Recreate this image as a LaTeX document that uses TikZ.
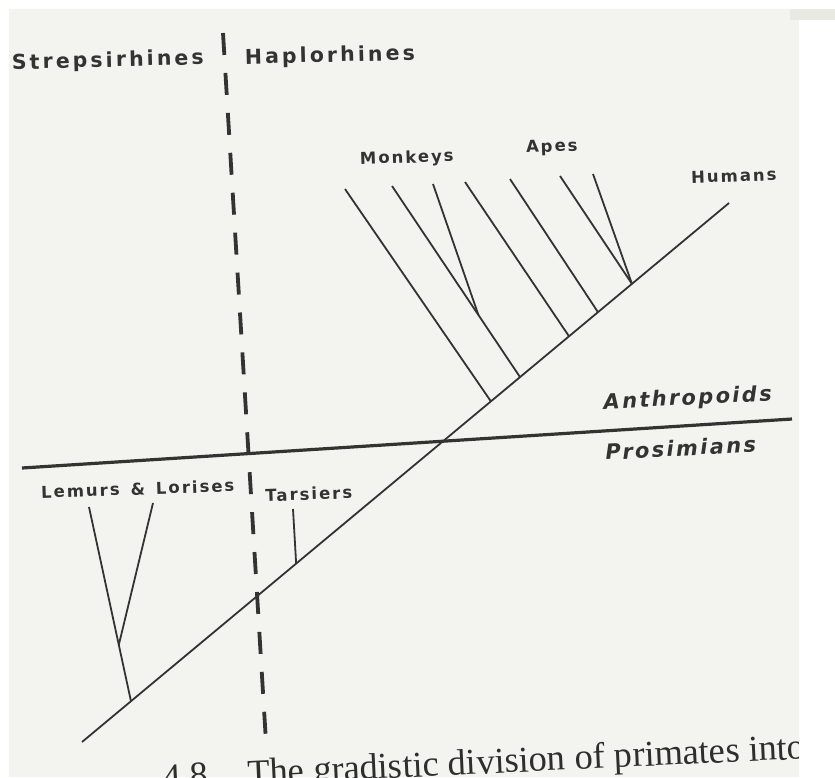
\documentclass[tikz,border=0pt]{standalone}
\usepackage{fontspec}
\usetikzlibrary{calc}
\newfontfamily\headfont[LetterSpace=15]{DejaVu Sans}
\newfontfamily\labfont[LetterSpace=12]{DejaVu Sans}
\newfontfamily\gradefont[LetterSpace=11]{DejaVu Sans}
\newfontfamily\capfont{Liberation Serif}
\definecolor{ink}{HTML}{333333}
\definecolor{paper}{HTML}{F3F4EF}
\definecolor{paperedge}{HTML}{E9E9E4}
\begin{document}
\begin{tikzpicture}[x=1pt,y=-1pt,
  treeline/.style={draw=ink, line width=1.8pt},
  divideline/.style={draw=ink, line width=3.2pt},
  cladeline/.style={draw=ink, line width=3.8pt, dash pattern=on 22pt off 18pt},
  headlabel/.style={text=ink, inner sep=0pt, anchor=base, rotate=1.5,
    font=\headfont\bfseries\fontsize{20.5}{24}\selectfont},
  taxlabel/.style={text=ink, inner sep=0pt, anchor=base, rotate=2,
    font=\labfont\bfseries\fontsize{16.5}{20}\selectfont},
  gradelabel/.style={text=ink, inner sep=0pt, anchor=base, rotate=3,
    font=\gradefont\bfseries\itshape\fontsize{21}{25}\selectfont},
  captext/.style={text=ink!90!black, inner sep=0pt, anchor=base west, rotate=2.7,
    font=\capfont\fontsize{36.5}{42}\selectfont}]
\useasboundingbox (0,0) rectangle (835,777);
\clip (0,0) rectangle (835,777);
% page background
\fill[white] (0,0) rectangle (835,777);
\fill[paper] (9,9) rectangle (799,777);
\fill[paperedge] (790,9) rectangle (835,20);

% main diagonal
\coordinate (root) at (82,742);
\coordinate (top) at (729,203);
\coordinate (lj) at ($(root)!0.0757!(top)$);
\coordinate (tj) at ($(root)!0.331!(top)$);
\coordinate (b1) at ($(root)!0.632!(top)$);
\coordinate (b2) at ($(root)!0.677!(top)$);
\coordinate (b4) at ($(root)!0.7527!(top)$);
\coordinate (b5) at ($(root)!0.7975!(top)$);
\coordinate (b6) at ($(root)!0.850!(top)$);
% anthropoid leaves
\coordinate (m1) at (345,189);
\coordinate (m2) at (392,186);
\coordinate (m3) at (433,184);
\coordinate (m4) at (465,182);
\coordinate (a1) at (510,179);
\coordinate (a2) at (560,176);
\coordinate (a3) at (593,174);
\coordinate (mj) at ($(m2)!0.675!(b2)$);
% lemur and tarsier leaves
\coordinate (l1) at (89,507);
\coordinate (l2) at (153,503);
\coordinate (lk) at ($(l1)!0.71!(lj)$);
\coordinate (t1) at (293,509);
% grade and clade divisions
\coordinate (h1) at (22,468);
\coordinate (h2) at (792,419);
\coordinate (d1) at (223,33);
\coordinate (d2) at (266,742);

% caption of the page
\node[captext] (fignum) at (163,789) {4.8};
\node[captext] (caption) at (248,785) {The gradistic division of primates into};
\fill[white] (799,20) rectangle (835,777);

% tree
\draw[treeline] (root) -- (top);
\draw[treeline] (m1) -- (b1);
\draw[treeline] (m2) -- (b2);
\draw[treeline] (m3) -- (mj);
\draw[treeline] (m4) -- (b4);
\draw[treeline] (a1) -- (b5);
\draw[treeline] (a2) -- (b6);
\draw[treeline] (a3) -- (b6);
\draw[treeline] (l1) -- (lj);
\draw[treeline] (l2) -- (lk);
\draw[treeline] (t1) -- (tj);

\draw[divideline] (h1) -- (h2);
\draw[cladeline] (d1) -- (d2);

% labels
\node[headlabel] (strep) at (108,67) {Strepsirhines};
\node[headlabel] (haplo) at (330,62) {Haplorhines};
\node[taxlabel] (monkeys) at (407,163) {Monkeys};
\node[taxlabel] (apes) at (552,152) {Apes};
\node[taxlabel] (humans) at (734,182) {Humans};
\node[taxlabel] (lemurs) at (138,495) {Lemurs\kern11pt\&\kern11pt Lorises};
\node[taxlabel] (tarsiers) at (309,500) {Tarsiers};
\node[gradelabel] (anthro) at (688,405) {Anthropoids};
\node[gradelabel] (prosim) at (681,456) {Prosimians};
\end{tikzpicture}
\end{document}
